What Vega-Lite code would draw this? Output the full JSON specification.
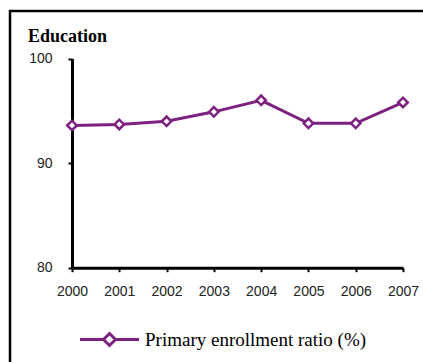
{
  "$schema": "https://vega.github.io/schema/vega-lite/v6.json",
  "width": 430,
  "height": 360,
  "autosize": "none",
  "padding": {"left": 10, "top": 11, "right": 0, "bottom": 0},
  "background": "white",
  "config": {
    "view": {"stroke": "black", "strokeWidth": 2.5},
    "axis": {
      "domainColor": "black",
      "domainWidth": 3,
      "tickColor": "black",
      "tickWidth": 2,
      "tickSize": 4,
      "grid": false,
      "labelFont": "Liberation Sans",
      "labelFontSize": 14,
      "labelColor": "#222222",
      "title": null
    }
  },
  "title": {
    "text": "Education",
    "anchor": "start",
    "frame": "group",
    "font": "Liberation Serif",
    "fontSize": 18,
    "fontWeight": "bold",
    "color": "black",
    "baseline": "alphabetic",
    "offset": 0,
    "dx": 18,
    "dy": 49
  },
  "data": {
    "values": [
      {"year": "2000", "value": 93.6, "series": "Primary enrollment ratio (%)"},
      {"year": "2001", "value": 93.7, "series": "Primary enrollment ratio (%)"},
      {"year": "2002", "value": 94.0, "series": "Primary enrollment ratio (%)"},
      {"year": "2003", "value": 94.9, "series": "Primary enrollment ratio (%)"},
      {"year": "2004", "value": 96.0, "series": "Primary enrollment ratio (%)"},
      {"year": "2005", "value": 93.8, "series": "Primary enrollment ratio (%)"},
      {"year": "2006", "value": 93.8, "series": "Primary enrollment ratio (%)"},
      {"year": "2007", "value": 95.8, "series": "Primary enrollment ratio (%)"}
    ]
  },
  "encoding": {
    "x": {
      "field": "year",
      "type": "ordinal",
      "scale": {"type": "point", "range": [62, 393], "padding": 0},
      "axis": {"offset": -103.3, "labelAngle": 0, "labelPadding": 13}
    },
    "y": {
      "field": "value",
      "type": "quantitative",
      "scale": {"domain": [80, 100], "range": [256.7, 47.5], "zero": false, "nice": false},
      "axis": {"offset": -62, "values": [80, 90, 100], "labelPadding": 16}
    }
  },
  "layer": [
    {
      "mark": {"type": "line", "strokeWidth": 3},
      "encoding": {
        "color": {
          "field": "series",
          "type": "nominal",
          "scale": {"range": ["#7d2180"]},
          "legend": {
            "title": null,
            "orient": "none",
            "legendX": 90,
            "legendY": 319,
            "padding": 0,
            "symbolType": "M-5.9,0L-1.2,0M1.2,0L5.9,0M0,-1.2L1.2,0L0,1.2L-1.2,0Z",
            "symbolSize": 100,
            "labelOffset": 26,
            "labelFont": "Liberation Serif",
            "labelFontSize": 19,
            "labelColor": "black",
            "labelLimit": 400,
            "encode": {
              "symbols": {
                "update": {
                  "fill": {"value": "white"},
                  "stroke": {"value": "#7d2180"},
                  "strokeWidth": {"value": 3},
                  "opacity": {"value": 1}
                }
              }
            }
          }
        }
      }
    },
    {
      "mark": {
        "type": "point",
        "shape": "diamond",
        "filled": true,
        "fill": "white",
        "stroke": "#7d2180",
        "strokeWidth": 2.5,
        "size": 90,
        "opacity": 1
      }
    }
  ]
}
